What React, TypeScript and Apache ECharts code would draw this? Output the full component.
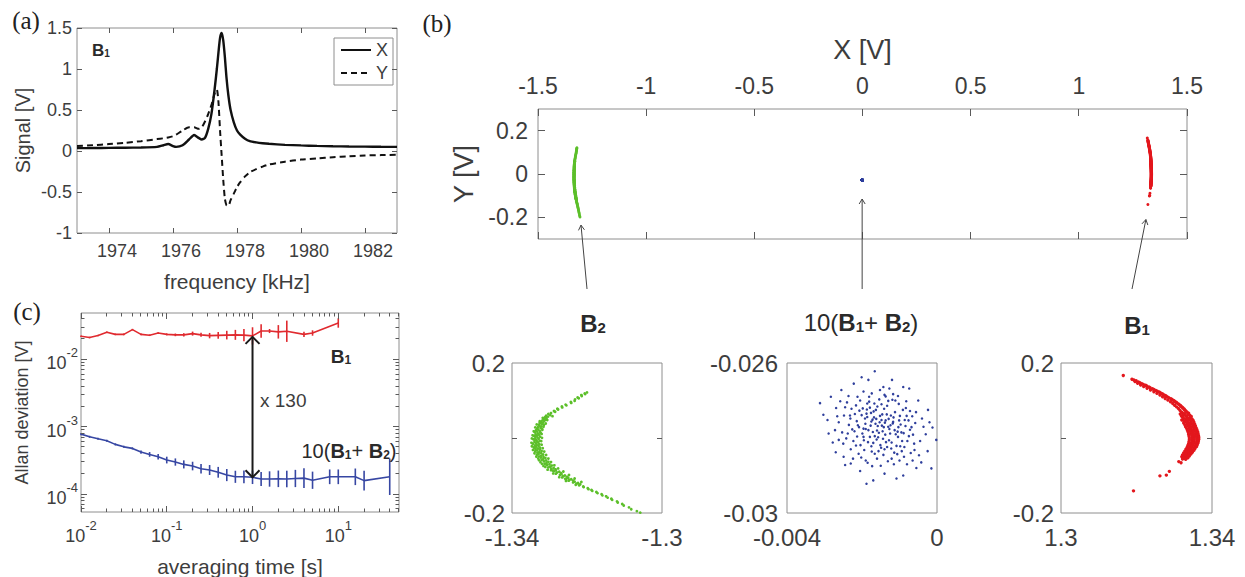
import { useEffect, useRef } from "react";
import * as echarts from "echarts";

// ---------------- (a) frequency sweep of B1 ----------------
const FREQ_KHZ = [1973, 1973.5, 1974, 1974.5, 1975, 1975.5, 1975.7, 1975.85, 1976.0, 1976.1, 1976.3, 1976.5, 1976.66, 1976.8, 1976.9, 1977.0, 1977.1, 1977.2, 1977.3, 1977.37, 1977.42, 1977.47, 1977.52, 1977.57, 1977.62, 1977.67, 1977.73, 1977.8, 1977.9, 1978.0, 1978.1, 1978.25, 1978.4, 1978.6, 1978.8, 1979.0, 1979.5, 1980, 1980.5, 1981, 1981.5, 1982, 1982.5, 1983];
const SIGNAL_X = [0.035, 0.036, 0.038, 0.04, 0.042, 0.05, 0.07, 0.085, 0.06, 0.05, 0.07, 0.14, 0.195, 0.16, 0.14, 0.16, 0.27, 0.45, 0.75, 1.0, 1.2, 1.38, 1.44, 1.35, 1.15, 0.9, 0.68, 0.5, 0.35, 0.25, 0.2, 0.15, 0.12, 0.105, 0.095, 0.088, 0.075, 0.068, 0.062, 0.058, 0.055, 0.053, 0.051, 0.05];
const SIGNAL_Y = [0.06, 0.07, 0.085, 0.1, 0.12, 0.145, 0.155, 0.165, 0.18, 0.2, 0.25, 0.29, 0.29, 0.27, 0.29, 0.36, 0.45, 0.56, 0.7, 0.75, 0.6, 0.25, -0.05, -0.35, -0.58, -0.66, -0.67, -0.6, -0.52, -0.44, -0.38, -0.31, -0.26, -0.22, -0.19, -0.165, -0.13, -0.105, -0.09, -0.075, -0.065, -0.055, -0.05, -0.045];
const A_XTICKS = [1974, 1976, 1978, 1980, 1982];
const A_YTICKS = [-1, -0.5, 0, 0.5, 1, 1.5];

// ---------------- (c) Allan deviation ----------------
const TAU_B1 = [0.01, 0.0126, 0.0158, 0.02, 0.0251, 0.0316, 0.0398, 0.0501, 0.0631, 0.0794, 0.1, 0.126, 0.158, 0.2, 0.251, 0.316, 0.398, 0.501, 0.631, 0.794, 1, 1.26, 1.58, 2, 2.51, 3.98, 5.01, 10];
const ADEV_B1 = [0.0219, 0.021, 0.0225, 0.0251, 0.0234, 0.0234, 0.0275, 0.0234, 0.0227, 0.0245, 0.0234, 0.023, 0.023, 0.024, 0.023, 0.0224, 0.0226, 0.0228, 0.023, 0.0228, 0.0222, 0.0262, 0.0262, 0.0255, 0.026, 0.0234, 0.0245, 0.0345];
const ERR_B1_DEC = [0.012, 0.012, 0.012, 0.012, 0.012, 0.012, 0.012, 0.012, 0.012, 0.012, 0.015, 0.02, 0.025, 0.03, 0.03, 0.04, 0.05, 0.064, 0.074, 0.09, 0.128, 0.1, 0.03, 0.1, 0.158, 0.04, 0.04, 0.07];
const TAU_SUM = [0.01, 0.0126, 0.0158, 0.02, 0.0251, 0.0316, 0.0398, 0.0501, 0.0631, 0.0794, 0.1, 0.126, 0.158, 0.2, 0.251, 0.316, 0.398, 0.501, 0.631, 0.794, 1, 1.26, 1.58, 2, 2.51, 3.16, 3.98, 5.01, 7.94, 10, 15.8, 20, 39.8];
const ADEV_SUM = [7.74e-4, 7.06e-4, 6.59e-4, 6.17e-4, 5.45e-4, 5.01e-4, 4.75e-4, 4.19e-4, 3.87e-4, 3.57e-4, 3.19e-4, 2.98e-4, 2.75e-4, 2.6e-4, 2.37e-4, 2.27e-4, 2.1e-4, 1.91e-4, 1.8e-4, 1.8e-4, 1.77e-4, 1.67e-4, 1.67e-4, 1.68e-4, 1.67e-4, 1.7e-4, 1.72e-4, 1.6e-4, 1.8e-4, 1.8e-4, 1.8e-4, 1.58e-4, 1.8e-4];
const ERR_SUM_DEC = [0.015, 0.015, 0.015, 0.015, 0.015, 0.015, 0.015, 0.025, 0.035, 0.04, 0.05, 0.054, 0.06, 0.064, 0.07, 0.074, 0.08, 0.09, 0.09, 0.094, 0.1, 0.104, 0.114, 0.123, 0.123, 0.128, 0.148, 0.128, 0.109, 0.109, 0.123, 0.148, 0.27];
const C_XMAJOR = [0.01, 0.1, 1, 10];
const C_YMAJOR = [1e-4, 1e-3, 1e-2];
const MINOR_MULT = [2, 3, 4, 5, 6, 7, 8, 9];

// ---------------- (b) IQ scatter ----------------
const B2_POINTS = [
  [-1.3200, 0.1215], [-1.3206, 0.1190], [-1.3205, 0.1170], [-1.3215, 0.1145], [-1.3214, 0.1120], [-1.3225, 0.1080], [-1.3222, 0.1060], [-1.3232, 0.1030], [-1.3233, 0.0990], [-1.3243, 0.0960],
  [-1.3242, 0.0935], [-1.3257, 0.0890], [-1.3255, 0.0870], [-1.3267, 0.0840], [-1.3266, 0.0815], [-1.3279, 0.0780], [-1.3277, 0.0760], [-1.3288, 0.0720], [-1.3285, 0.0700], [-1.3296, 0.0665],
  [-1.3303, 0.0640], [-1.3298, 0.0610], [-1.3309, 0.0595], [-1.3304, 0.0570], [-1.3312, 0.0555],
  [-1.3308, 0.0530], [-1.3316, 0.0510], [-1.3311, 0.0490], [-1.3319, 0.0470], [-1.3314, 0.0455],
  [-1.3322, 0.0430], [-1.3317, 0.0410], [-1.3325, 0.0395], [-1.3320, 0.0370], [-1.3328, 0.0355], [-1.3315, 0.0345],
  [-1.3327, 0.0330], [-1.3322, 0.0310], [-1.3331, 0.0290], [-1.3324, 0.0270], [-1.3333, 0.0255], [-1.3320, 0.0240],
  [-1.3330, 0.0225], [-1.3336, 0.0205], [-1.3326, 0.0190], [-1.3333, 0.0170], [-1.3339, 0.0155], [-1.3324, 0.0140],
  [-1.3331, 0.0120], [-1.3337, 0.0100], [-1.3328, 0.0085], [-1.3334, 0.0065], [-1.3341, 0.0050], [-1.3325, 0.0035],
  [-1.3332, 0.0015], [-1.3338, -0.0005], [-1.3329, -0.0020], [-1.3343, -0.0035], [-1.3335, -0.0055], [-1.3326, -0.0070],
  [-1.3333, -0.0090], [-1.3340, -0.0105], [-1.3330, -0.0120], [-1.3336, -0.0140], [-1.3344, -0.0155], [-1.3327, -0.0165],
  [-1.3334, -0.0185], [-1.3339, -0.0200], [-1.3329, -0.0215], [-1.3336, -0.0235], [-1.3342, -0.0250], [-1.3325, -0.0260],
  [-1.3331, -0.0280], [-1.3337, -0.0295], [-1.3326, -0.0310], [-1.3333, -0.0330], [-1.3321, -0.0345], [-1.3338, -0.0355],
  [-1.3327, -0.0375], [-1.3332, -0.0390], [-1.3322, -0.0405], [-1.3329, -0.0425], [-1.3317, -0.0440], [-1.3334, -0.0450],
  [-1.3322, -0.0470], [-1.3328, -0.0490], [-1.3316, -0.0505], [-1.3323, -0.0520], [-1.3311, -0.0535], [-1.3330, -0.0545],
  [-1.3317, -0.0565], [-1.3321, -0.0585], [-1.3309, -0.0600], [-1.3315, -0.0620], [-1.3303, -0.0635], [-1.3324, -0.0645],
  [-1.3308, -0.0665], [-1.3313, -0.0685], [-1.3300, -0.0700], [-1.3306, -0.0720], [-1.3294, -0.0735], [-1.3316, -0.0745],
  [-1.3298, -0.0765], [-1.3303, -0.0785], [-1.3289, -0.0800], [-1.3295, -0.0820], [-1.3284, -0.0835], [-1.3305, -0.0845],
  [-1.3283, -0.0865], [-1.3288, -0.0885], [-1.3274, -0.0900], [-1.3280, -0.0920], [-1.3269, -0.0935], [-1.3290, -0.0945],
  [-1.3268, -0.0965], [-1.3272, -0.0985], [-1.3259, -0.1000], [-1.3264, -0.1020], [-1.3253, -0.1035], [-1.3274, -0.1045],
  [-1.3250, -0.1065], [-1.3255, -0.1085], [-1.3242, -0.1100], [-1.3247, -0.1120], [-1.3237, -0.1135], [-1.3256, -0.1145],
  [-1.3233, -0.1165], [-1.3237, -0.1185], [-1.3224, -0.1200], [-1.3228, -0.1220], [-1.3218, -0.1235],
  [-1.3221, -0.1260], [-1.3210, -0.1290], [-1.3209, -0.1310], [-1.3198, -0.1340], [-1.3196, -0.1365], [-1.3188, -0.1385], [-1.3186, -0.1410], [-1.3175, -0.1440],
  [-1.3172, -0.1470], [-1.3161, -0.1500], [-1.3159, -0.1530], [-1.3149, -0.1555], [-1.3145, -0.1590], [-1.3135, -0.1620], [-1.3133, -0.1650], [-1.3120, -0.1690],
  [-1.3118, -0.1720], [-1.3106, -0.1760], [-1.3102, -0.1800], [-1.3088, -0.1850], [-1.3082, -0.1900], [-1.3067, -0.1950], [-1.3058, -0.1990],
  [-1.3292, 0.0582], [-1.3318, 0.0537], [-1.3306, 0.0478], [-1.3326, 0.0447], [-1.3310, 0.0386], [-1.3334, 0.0362], [-1.3316, 0.0298], [-1.3338, 0.0283], [-1.3319, 0.0217], [-1.3342, 0.0178],
  [-1.3321, 0.0108], [-1.3345, 0.0072], [-1.3320, 0.0004], [-1.3347, -0.0012], [-1.3322, -0.0083], [-1.3348, -0.0128], [-1.3321, -0.0178], [-1.3347, -0.0221], [-1.3318, -0.0272], [-1.3344, -0.0318],
  [-1.3314, -0.0362], [-1.3340, -0.0408], [-1.3309, -0.0452], [-1.3335, -0.0497], [-1.3303, -0.0548], [-1.3328, -0.0592], [-1.3296, -0.0642], [-1.3320, -0.0688], [-1.3287, -0.0728], [-1.3311, -0.0772],
  [-1.3277, -0.0812], [-1.3296, -0.0858], [-1.3263, -0.0893], [-1.3283, -0.0952], [-1.3248, -0.0987], [-1.3266, -0.1052], [-1.3233, -0.1079], [-1.3249, -0.1138], [-1.3215, -0.1172], [-1.3230, -0.1248],
  [-1.3325, 0.0152], [-1.3339, -0.0062], [-1.3331, -0.0402], [-1.3326, 0.0411], [-1.3308, -0.0712], [-1.3291, -0.0868], [-1.3258, -0.1088], [-1.3312, 0.0512], [-1.3338, 0.0058], [-1.3340, -0.0268],
];

const B1_POINTS = [
  [1.3165, 0.1665], [1.3188, 0.1565], [1.3193, 0.1545], [1.3199, 0.1530], [1.3196, 0.1505], [1.3205, 0.1495], [1.3209, 0.1475], [1.3203, 0.1460], [1.3214, 0.1450], [1.3218, 0.1430],
  [1.3211, 0.1415], [1.3224, 0.1405], [1.3227, 0.1385], [1.3219, 0.1370], [1.3233, 0.1360], [1.3236, 0.1340], [1.3228, 0.1325], [1.3242, 0.1315], [1.3246, 0.1295], [1.3237, 0.1280],
  [1.3251, 0.1270], [1.3255, 0.1250], [1.3246, 0.1235], [1.3260, 0.1225], [1.3263, 0.1205], [1.3254, 0.1190], [1.3268, 0.1180], [1.3271, 0.1160], [1.3262, 0.1145], [1.3276, 0.1135],
  [1.3279, 0.1115], [1.3269, 0.1100], [1.3283, 0.1090], [1.3286, 0.1070], [1.3276, 0.1055], [1.3291, 0.1045], [1.3294, 0.1025], [1.3283, 0.1010], [1.3298, 0.1000], [1.3301, 0.0980],
  [1.3290, 0.0965], [1.3305, 0.0955], [1.3307, 0.0935], [1.3296, 0.0920], [1.3311, 0.0910], [1.3313, 0.0890], [1.3301, 0.0875], [1.3316, 0.0865], [1.3318, 0.0845], [1.3306, 0.0830],
  [1.3321, 0.0820], [1.3323, 0.0800], [1.3311, 0.0785], [1.3326, 0.0775], [1.3327, 0.0755], [1.3315, 0.0740], [1.3330, 0.0730], [1.3331, 0.0710], [1.3319, 0.0695],
  [1.3334, 0.0685], [1.3322, 0.0670], [1.3338, 0.0660], [1.3327, 0.0650], [1.3316, 0.0640],
  [1.3336, 0.0625], [1.3324, 0.0615], [1.3341, 0.0605], [1.3330, 0.0595], [1.3319, 0.0585], [1.3345, 0.0575],
  [1.3333, 0.0565], [1.3322, 0.0555], [1.3342, 0.0545], [1.3336, 0.0530], [1.3325, 0.0520], [1.3347, 0.0510],
  [1.3331, 0.0500], [1.3340, 0.0490], [1.3320, 0.0480], [1.3350, 0.0470], [1.3335, 0.0460], [1.3326, 0.0450],
  [1.3344, 0.0440], [1.3330, 0.0430], [1.3352, 0.0420], [1.3338, 0.0410], [1.3325, 0.0400], [1.3346, 0.0390],
  [1.3334, 0.0380], [1.3354, 0.0370], [1.3341, 0.0360], [1.3328, 0.0350], [1.3349, 0.0340], [1.3336, 0.0330],
  [1.3356, 0.0320], [1.3343, 0.0310], [1.3330, 0.0300], [1.3351, 0.0290], [1.3339, 0.0280], [1.3358, 0.0270],
  [1.3345, 0.0260], [1.3333, 0.0250], [1.3353, 0.0240], [1.3341, 0.0230], [1.3360, 0.0220], [1.3348, 0.0210],
  [1.3335, 0.0200], [1.3355, 0.0190], [1.3343, 0.0180], [1.3362, 0.0170], [1.3350, 0.0160], [1.3337, 0.0150],
  [1.3357, 0.0140], [1.3345, 0.0130], [1.3363, 0.0120], [1.3351, 0.0110], [1.3338, 0.0100], [1.3358, 0.0090],
  [1.3346, 0.0080], [1.3364, 0.0070], [1.3352, 0.0060], [1.3339, 0.0050], [1.3359, 0.0040], [1.3347, 0.0030],
  [1.3365, 0.0020], [1.3353, 0.0010], [1.3340, 0.0000], [1.3360, -0.0010], [1.3347, -0.0020], [1.3365, -0.0030],
  [1.3353, -0.0040], [1.3340, -0.0050], [1.3360, -0.0060], [1.3347, -0.0070], [1.3364, -0.0080], [1.3352, -0.0090],
  [1.3339, -0.0100], [1.3359, -0.0110], [1.3346, -0.0120], [1.3363, -0.0130], [1.3351, -0.0140], [1.3338, -0.0150],
  [1.3357, -0.0160], [1.3344, -0.0170], [1.3361, -0.0180], [1.3349, -0.0190], [1.3336, -0.0200], [1.3355, -0.0210],
  [1.3342, -0.0220], [1.3359, -0.0230], [1.3346, -0.0240], [1.3334, -0.0250], [1.3352, -0.0260], [1.3339, -0.0270],
  [1.3355, -0.0280], [1.3343, -0.0290], [1.3331, -0.0300], [1.3349, -0.0310], [1.3336, -0.0320], [1.3352, -0.0330],
  [1.3340, -0.0340], [1.3328, -0.0350], [1.3345, -0.0360], [1.3333, -0.0370], [1.3348, -0.0380], [1.3336, -0.0390],
  [1.3325, -0.0400], [1.3342, -0.0410], [1.3330, -0.0420], [1.3344, -0.0430], [1.3332, -0.0440], [1.3322, -0.0450],
  [1.3338, -0.0460], [1.3327, -0.0470], [1.3340, -0.0480], [1.3329, -0.0490], [1.3320, -0.0500], [1.3334, -0.0510],
  [1.3324, -0.0520], [1.3336, -0.0530], [1.3326, -0.0540], [1.3331, -0.0550], [1.3322, -0.0560], [1.3330, -0.0570],
  [1.3312, -0.0630], [1.3318, -0.0660], [1.3287, -0.0890], [1.3279, -0.0990], [1.3262, -0.1010], [1.3192, -0.1410],
];

const SUM_POINTS = [
  [-0.00158, -0.02768], [-0.00172, -0.02751], [-0.00145, -0.02782], [-0.00183, -0.02779], [-0.00139, -0.02759],
  [-0.00166, -0.02795], [-0.00152, -0.02741], [-0.00191, -0.02762], [-0.00127, -0.02776], [-0.00176, -0.02733],
  [-0.00144, -0.02802], [-0.00162, -0.02749], [-0.00199, -0.02788], [-0.00118, -0.02761], [-0.00170, -0.02813],
  [-0.00134, -0.02737], [-0.00186, -0.02744], [-0.00151, -0.02819], [-0.00208, -0.02771], [-0.00110, -0.02790],
  [-0.00163, -0.02725], [-0.00128, -0.02806], [-0.00195, -0.02806], [-0.00141, -0.02722], [-0.00179, -0.02797],
  [-0.00116, -0.02745], [-0.00214, -0.02755], [-0.00156, -0.02835], [-0.00103, -0.02771], [-0.00187, -0.02724],
  [-0.00133, -0.02824], [-0.00201, -0.02739], [-0.00148, -0.02710], [-0.00122, -0.02828], [-0.00174, -0.02836],
  [-0.00095, -0.02785], [-0.00220, -0.02782], [-0.00167, -0.02708], [-0.00137, -0.02753], [-0.00155, -0.02786],
  [-0.00235, -0.02765], [-0.00228, -0.02722], [-0.00242, -0.02801], [-0.00086, -0.02752], [-0.00079, -0.02808],
  [-0.00091, -0.02725], [-0.00205, -0.02700], [-0.00119, -0.02698], [-0.00181, -0.02690], [-0.00140, -0.02685],
  [-0.00209, -0.02842], [-0.00106, -0.02843], [-0.00160, -0.02855], [-0.00131, -0.02862], [-0.00190, -0.02860],
  [-0.00248, -0.02740], [-0.00253, -0.02785], [-0.00072, -0.02778], [-0.00066, -0.02742], [-0.00230, -0.02830],
  [-0.00098, -0.02822], [-0.00216, -0.02713], [-0.00082, -0.02702], [-0.00152, -0.02672], [-0.00196, -0.02676],
  [-0.00115, -0.02870], [-0.00173, -0.02875], [-0.00061, -0.02815], [-0.00262, -0.02758], [-0.00240, -0.02705],
  [-0.00058, -0.02760], [-0.00224, -0.02855], [-0.00088, -0.02850], [-0.00269, -0.02720], [-0.00127, -0.02668],
  [-0.00283, -0.02690], [-0.00292, -0.02752], [-0.00278, -0.02812], [-0.00270, -0.02838], [-0.00255, -0.02672],
  [-0.00222, -0.02655], [-0.00183, -0.02645], [-0.00120, -0.02645], [-0.00104, -0.02688], [-0.00074, -0.02668],
  [-0.00050, -0.02700], [-0.00040, -0.02748], [-0.00030, -0.02790], [-0.00012, -0.02772], [-0.00025, -0.02835],
  [-0.00055, -0.02880], [-0.00140, -0.02895], [-0.00205, -0.02888], [-0.00245, -0.02872], [-0.00262, -0.02805],
  [-0.00236, -0.02688], [-0.00060, -0.02832], [-0.00072, -0.02728],
  [-0.00166, -0.02622], [-0.00201, -0.02638], [-0.00143, -0.02664], [-0.00090, -0.02664], [-0.00312, -0.02707],
  [-0.00303, -0.02738], [-0.00289, -0.02788], [-0.00002, -0.02805], [-0.00015, -0.02881], [-0.00024, -0.02725],
  [-0.00042, -0.02865], [-0.00188, -0.02922], [-0.00170, -0.02913], [-0.00108, -0.02908], [-0.00090, -0.02900],
  [-0.00231, -0.02748], [-0.00213, -0.02796], [-0.00198, -0.02721], [-0.00184, -0.02811], [-0.00177, -0.02767],
  [-0.00169, -0.02729], [-0.00161, -0.02804], [-0.00153, -0.02758], [-0.00146, -0.02737], [-0.00138, -0.02791],
  [-0.00129, -0.02749], [-0.00121, -0.02812], [-0.00112, -0.02731], [-0.00104, -0.02797], [-0.00097, -0.02764],
  [-0.00089, -0.02787], [-0.00081, -0.02741], [-0.00075, -0.02795], [-0.00068, -0.02771], [-0.00226, -0.02777],
  [-0.00219, -0.02736], [-0.00204, -0.02819], [-0.00192, -0.02748], [-0.00181, -0.02703], [-0.00171, -0.02784],
  [-0.00164, -0.02762], [-0.00149, -0.02826], [-0.00142, -0.02771], [-0.00133, -0.02714], [-0.00125, -0.02788],
  [-0.00117, -0.02757], [-0.00108, -0.02821], [-0.00099, -0.02741], [-0.00093, -0.02808], [-0.00084, -0.02768],
  [-0.00211, -0.02766], [-0.00196, -0.02775], [-0.00188, -0.02735], [-0.00175, -0.02822], [-0.00168, -0.02745],
  [-0.00157, -0.02798], [-0.00148, -0.02752], [-0.00136, -0.02811], [-0.00124, -0.02766], [-0.00113, -0.02779],
  [-0.00101, -0.02753], [-0.00087, -0.02824], [-0.00076, -0.02753], [-0.00245, -0.02718], [-0.00238, -0.02788],
  [-0.00250, -0.02815], [-0.00223, -0.02808], [-0.00207, -0.02727], [-0.00194, -0.02832], [-0.00179, -0.02719],
  [-0.00159, -0.02716], [-0.00143, -0.02845], [-0.00130, -0.02701], [-0.00114, -0.02839], [-0.00102, -0.02709],
  [-0.00094, -0.02835], [-0.00083, -0.02720], [-0.00070, -0.02840], [-0.00064, -0.02791], [-0.00056, -0.02731],
  [-0.00202, -0.02852], [-0.00185, -0.02866], [-0.00166, -0.02842], [-0.00150, -0.02874], [-0.00121, -0.02855],
  [-0.00111, -0.02700], [-0.00137, -0.02689], [-0.00174, -0.02681], [-0.00212, -0.02690], [-0.00258, -0.02702],
  [-0.00266, -0.02742], [-0.00272, -0.02779], [-0.00249, -0.02850], [-0.00230, -0.02868], [-0.00080, -0.02870],
  [-0.00045, -0.02808], [-0.00036, -0.02770], [-0.00048, -0.02846], [-0.00065, -0.02860], [-0.00020, -0.02758],
  [-0.00190, -0.02776], [-0.00160, -0.02780], [-0.00130, -0.02770], [-0.00147, -0.02767], [-0.00175, -0.02756],
  [-0.00123, -0.02740], [-0.00105, -0.02783], [-0.00196, -0.02797], [-0.00216, -0.02820], [-0.00140, -0.02830],
  [-0.00154, -0.02697], [-0.00186, -0.02708], [-0.00117, -0.02683], [-0.00232, -0.02740], [-0.00100, -0.02860],
];

const B_XTICKS = [-1.5, -1, -0.5, 0, 0.5, 1, 1.5];
const B_YTICKS = [-0.2, 0, 0.2];

// ---------------- styling ----------------
const FONT = "'Liberation Sans', Arial, Helvetica, sans-serif";
const SERIF = "'Liberation Serif', 'Times New Roman', serif";
const AXC = "#8e8e8e";
const TICKC = "#5a5a5a";
const TXT = "#3d3d3d";
const RED = "#e3171d";
const GREEN = "#5cbf2a";
const BLUE = "#2f3f9c";
const RED_C = "#e02a2f";
const BLUE_C = "#3747a3";

function axis(o: any) {
  return {
    type: "value",
    gridIndex: o.grid,
    position: o.position,
    min: o.min,
    max: o.max,
    axisLine: { show: false, onZero: false },
    splitLine: { show: false },
    axisTick: { show: false },
    axisLabel: o.labels
      ? {
          show: true,
          customValues: o.labels,
          formatter: o.formatter || ((v: number) => String(v)),
          fontSize: o.fontSize,
          fontFamily: FONT,
          color: TXT,
          margin: o.margin,
          padding: o.labelPad,
          rich: o.rich,
        }
      : { show: false },
    name: o.name || "",
    nameLocation: "middle",
    nameGap: o.nameGap,
    nameTextStyle: { fontSize: o.nameSize, fontFamily: FONT, color: TXT },
  };
}

const lg = (v: number) => Math.log10(v);

export default function App() {
  const ref = useRef<HTMLDivElement>(null);

  useEffect(() => {
    const chart = echarts.init(ref.current!, null, { renderer: "svg" });

    const C_XMIN = -2, C_XMAX = 1.708, C_YMIN = -4.267, C_YMAX = -1.314;
    const minorX: number[] = [];
    [0.01, 0.1, 1, 10].forEach((d) => MINOR_MULT.forEach((m) => { const v = lg(d * m); if (v <= C_XMAX) minorX.push(v); }));
    const minorY: number[] = [];
    [1e-5, 1e-4, 1e-3, 1e-2].forEach((d) => MINOR_MULT.forEach((m) => { const v = lg(d * m); if (v >= C_YMIN && v <= C_YMAX) minorY.push(v); }));

    const powRich = {
      b: { fontSize: 18, fontFamily: FONT, color: TXT, lineHeight: 26, verticalAlign: "bottom" },
      s: { fontSize: 13, fontFamily: FONT, color: TXT, lineHeight: 12, verticalAlign: "top" },
    };
    const powFmt = (v: number) => `{b|10}{s|${Math.round(v)}}`;

    const grids = [
      { left: 77, top: 28, width: 320, height: 205 },
      { left: 81, top: 313, width: 318, height: 199 },
      { left: 538, top: 109, width: 649, height: 130 },
      { left: 512, top: 363, width: 150, height: 150 },
      { left: 787, top: 363, width: 150, height: 150 },
      { left: 1061, top: 363, width: 151, height: 150 },
    ].map((g) => ({ ...g, show: true, borderColor: AXC, borderWidth: 1, backgroundColor: "transparent", containLabel: false, outerBoundsMode: "none" }));

    const xAxis = [
      axis({ grid: 0, position: "bottom", min: 1973, max: 1983, labels: A_XTICKS, fontSize: 18, margin: 9, labelPad: [0, 0, 0, 16], name: "frequency [kHz]", nameGap: 38, nameSize: 21 }),
      axis({ grid: 1, position: "bottom", min: C_XMIN, max: C_XMAX, labels: C_XMAJOR.map(lg), formatter: powFmt, rich: powRich, fontSize: 18, margin: 7, name: "averaging time [s]", nameGap: 44, nameSize: 21 }),
      axis({ grid: 2, position: "top", min: -1.5, max: 1.5, labels: B_XTICKS, fontSize: 23, margin: 12, name: "X [V]", nameGap: 46, nameSize: 27 }),
      axis({ grid: 3, position: "bottom", min: -1.34, max: -1.3, labels: [-1.34, -1.3], fontSize: 24, margin: 12 }),
      axis({ grid: 4, position: "bottom", min: -0.004, max: 0, labels: [-0.004, 0], fontSize: 24, margin: 12 }),
      axis({ grid: 5, position: "bottom", min: 1.3, max: 1.34, labels: [1.3, 1.34], fontSize: 24, margin: 12 }),
    ];

    const yAxis = [
      axis({ grid: 0, position: "left", min: -1, max: 1.5, labels: A_YTICKS, fontSize: 18, margin: 5, name: "Signal [V]", nameGap: 44, nameSize: 20 }),
      axis({ grid: 1, position: "left", min: C_YMIN, max: C_YMAX, labels: C_YMAJOR.map(lg), formatter: powFmt, rich: powRich, fontSize: 18, margin: 3, name: "Allan deviation [V]", nameGap: 50, nameSize: 18 }),
      axis({ grid: 2, position: "left", min: -0.3, max: 0.3, labels: B_YTICKS, fontSize: 23, margin: 10, name: "Y [V]", nameGap: 60, nameSize: 27 }),
      axis({ grid: 3, position: "left", min: -0.2, max: 0.2, labels: [-0.2, 0.2], fontSize: 24, margin: 7 }),
      axis({ grid: 4, position: "left", min: -0.03, max: -0.026, labels: [-0.03, -0.026], fontSize: 24, margin: 9 }),
      axis({ grid: 5, position: "left", min: -0.2, max: 0.2, labels: [-0.2, 0.2], fontSize: 24, margin: 7 }),
    ];

    const errSeries = (tau: number[], val: number[], err: number[], color: string) => ({
      type: "custom",
      xAxisIndex: 1,
      yAxisIndex: 1,
      silent: true,
      z: 4,
      data: tau.map((t, i) => [lg(t), lg(val[i]) - err[i], lg(val[i]) + err[i]]),
      encode: { x: 0, y: [1, 2] },
      renderItem: (_p: any, api: any) => {
        const a = api.coord([api.value(0), api.value(1)]);
        const b = api.coord([api.value(0), api.value(2)]);
        return { type: "line", shape: { x1: a[0], y1: a[1], x2: b[0], y2: b[1] }, style: { stroke: color, lineWidth: 1.6 } };
      },
    });

    const scatter = (pts: number[][], ai: number, color: string, size: number) => ({
      type: "scatter",
      xAxisIndex: ai,
      yAxisIndex: ai,
      data: pts,
      symbol: "circle",
      symbolSize: size,
      itemStyle: { color, opacity: 1 },
      silent: true,
      z: 3,
    });

    chart.setOption({
      animation: false,
      backgroundColor: "#ffffff",
      textStyle: { fontFamily: FONT },
      grid: grids,
      xAxis,
      yAxis,
      legend: {
        data: ["X", "Y"],
        orient: "vertical",
        left: 334,
        top: 38,
        itemWidth: 30,
        itemHeight: 12,
        itemGap: 5,
        padding: [3, 5, 3, 6],
        borderColor: AXC,
        borderWidth: 1,
        backgroundColor: "#fff",
        selectedMode: false,
        itemStyle: { opacity: 0, borderWidth: 0 },
        textStyle: { fontSize: 18, color: TXT, fontFamily: FONT },
      },
      series: [
        { name: "X", type: "line", xAxisIndex: 0, yAxisIndex: 0, data: FREQ_KHZ.map((f, i) => [f, SIGNAL_X[i]]), symbol: "none", smooth: 0.2, lineStyle: { color: "#111", width: 2.4, type: "solid" }, itemStyle: { color: "#111" }, silent: true },
        { name: "Y", type: "line", xAxisIndex: 0, yAxisIndex: 0, data: FREQ_KHZ.map((f, i) => [f, SIGNAL_Y[i]]), symbol: "none", smooth: 0.2, lineStyle: { color: "#111", width: 2, type: [6, 4] }, itemStyle: { color: "#111" }, silent: true },
        { type: "line", xAxisIndex: 1, yAxisIndex: 1, data: TAU_B1.map((t, i) => [lg(t), lg(ADEV_B1[i])]), symbol: "none", lineStyle: { color: RED_C, width: 1.6 }, silent: true, z: 3 },
        errSeries(TAU_B1, ADEV_B1, ERR_B1_DEC, RED_C),
        { type: "line", xAxisIndex: 1, yAxisIndex: 1, data: TAU_SUM.map((t, i) => [lg(t), lg(ADEV_SUM[i])]), symbol: "none", lineStyle: { color: BLUE_C, width: 1.6 }, silent: true, z: 3 },
        errSeries(TAU_SUM, ADEV_SUM, ERR_SUM_DEC, BLUE_C),
        scatter(B2_POINTS, 2, GREEN, 2.8),
        scatter(SUM_POINTS, 2, BLUE, 2.6),
        scatter(B1_POINTS, 2, RED, 3),
        scatter(B2_POINTS, 3, GREEN, 2.8),
        scatter(SUM_POINTS, 4, BLUE, 2.5),
        scatter(B1_POINTS, 5, RED, 3.4),
      ],
    });

    // ---------- annotations ----------
    const px = (g: number, p: number[]) => chart.convertToPixel({ gridIndex: g } as any, p) as number[];
    const crisp = (v: number) => Math.round(v - 0.5) + 0.5;

    const seg = (a: number[], b: number[], color: string, w: number) => ({
      type: "line",
      silent: true,
      z: 100,
      shape: { x1: a[0], y1: a[1], x2: b[0], y2: b[1] },
      style: { stroke: color, lineWidth: w },
    });
    const arrowHead = (tail: number[], tip: number[], len: number, spread: number, color: string, w: number) => {
      const dx = tip[0] - tail[0];
      const dy = tip[1] - tail[1];
      const L = Math.hypot(dx, dy) || 1;
      const ux = dx / L, uy = dy / L;
      const bx = tip[0] - ux * len, by = tip[1] - uy * len;
      const nx = -uy, ny = ux;
      return {
        type: "polyline",
        silent: true,
        z: 100,
        shape: { points: [[bx + nx * spread, by + ny * spread], [tip[0], tip[1]], [bx - nx * spread, by - ny * spread]] },
        style: { stroke: color, lineWidth: w, fill: null },
      };
    };

    const els: any[] = [];

    // inside tick marks on all four sides (MATLAB box style), placed via the axes' scales
    const ticks = (g: number, xs: number[], ys: number[], len: number, xr: number[], yr: number[]) => {
      xs.forEach((v) => {
        const b = px(g, [v, yr[0]]);
        const t = px(g, [v, yr[1]]);
        const x = crisp(b[0]);
        els.push(seg([x, b[1]], [x, b[1] - len], TICKC, 1));
        els.push(seg([x, t[1]], [x, t[1] + len], TICKC, 1));
      });
      ys.forEach((v) => {
        const l = px(g, [xr[0], v]);
        const r = px(g, [xr[1], v]);
        const y = crisp(l[1]);
        els.push(seg([l[0], y], [l[0] + len, y], TICKC, 1));
        els.push(seg([r[0], y], [r[0] - len, y], TICKC, 1));
      });
    };
    ticks(0, A_XTICKS, A_YTICKS, 5, [1973, 1983], [-1, 1.5]);
    ticks(1, C_XMAJOR.map(lg), C_YMAJOR.map(lg), 6, [C_XMIN, C_XMAX], [C_YMIN, C_YMAX]);
    ticks(1, minorX, minorY, 3.5, [C_XMIN, C_XMAX], [C_YMIN, C_YMAX]);
    ticks(2, B_XTICKS, B_YTICKS, 7, [-1.5, 1.5], [-0.3, 0.3]);
    ticks(3, [], [0], 5, [-1.34, -1.3], [-0.2, 0.2]);
    ticks(5, [], [0], 5, [1.3, 1.34], [-0.2, 0.2]);

    // (b) arrows from the traces to the zoomed panels
    const gEnd = px(2, B2_POINTS[B2_POINTS.length - 51]);
    const gTip = [gEnd[0] + 1, gEnd[1] + 8];
    const gTail = [587, 289];
    els.push(seg(gTail, gTip, "#444", 1), arrowHead(gTail, gTip, 5, 3, "#444", 1));
    const sEnd = px(2, [-0.0016, -0.0277]);
    const sTip = [sEnd[0], sEnd[1] + 19];
    const sTail = [sEnd[0], 289];
    els.push(seg(sTail, sTip, "#444", 1), arrowHead(sTail, sTip, 5, 3, "#444", 1));
    const rEnd = px(2, B1_POINTS[B1_POINTS.length - 1]);
    const rTip = [rEnd[0] - 2, rEnd[1] + 15];
    const rTail = [1132, 289];
    els.push(seg(rTail, rTip, "#444", 1), arrowHead(rTail, rTip, 5, 3, "#444", 1));

    // (c) double arrow between B1 and 10(B1+B2) at tau = 1 s
    const iB1 = TAU_B1.indexOf(1);
    const iS = TAU_SUM.indexOf(1);
    const cTop = px(1, [0, lg(ADEV_B1[iB1])]);
    const cBot = px(1, [0, lg(ADEV_SUM[iS])]);
    const cT = [cTop[0], cTop[1] + 1];
    const cB = [cBot[0], cBot[1]];
    els.push(seg(cT, cB, "#1a1a1a", 2), arrowHead(cB, cT, 7, 7, "#1a1a1a", 2), arrowHead(cT, cB, 7, 7, "#1a1a1a", 2));

    // texts
    const text = (x: number, y: number, t: string, style: any) => ({
      type: "text",
      x,
      y,
      silent: true,
      z: 110,
      style: { text: t, fill: TXT, align: "center", verticalAlign: "middle", textAlign: "center", textVerticalAlign: "middle", ...style },
    });
    const subRich = (size: number, sub: number, color: string) => ({
      n: { fontSize: size, fontFamily: FONT, fill: color, lineHeight: size, verticalAlign: "top" },
      b: { fontSize: size, fontFamily: FONT, fontWeight: "bold", fill: color, lineHeight: size, verticalAlign: "top" },
      s: { fontSize: sub, fontFamily: FONT, fontWeight: "bold", fill: color, lineHeight: 2, verticalAlign: "bottom" },
    });
    els.push(text(26, 20, "(a)", { font: `25px ${SERIF}`, fill: "#222" }));
    els.push(text(437, 23, "(b)", { font: `25px ${SERIF}`, fill: "#222" }));
    els.push(text(27, 311, "(c)", { font: `25px ${SERIF}`, fill: "#222" }));
    els.push(text(101, 50, "{b|B}{s|1}", { rich: subRich(17, 10, "#2a2a2a") }));
    els.push(text(341, 356, "{b|B}{s|1}", { rich: subRich(19, 12, "#2a2a2a") }));
    els.push(text(349, 451, "{n|10(}{b|B}{s|1}{n|+ }{b|B}{s|2}{n|)}", { rich: subRich(20, 12, "#2a2a2a") }));
    els.push(text(260, 400, "x 130", { font: `19px ${FONT}`, fill: TXT, align: "left", textAlign: "left" }));
    els.push(text(593, 323, "{b|B}{s|2}", { rich: subRich(24, 15, "#2a2a2a") }));
    els.push(text(861, 322, "{n|10(}{b|B}{s|1}{n|+ }{b|B}{s|2}{n|)}", { rich: subRich(24, 15, "#2a2a2a") }));
    els.push(text(1137, 325, "{b|B}{s|1}", { rich: subRich(24, 15, "#2a2a2a") }));

    chart.setOption({ graphic: { elements: els } });

    return () => chart.dispose();
  }, []);

  return <div ref={ref} style={{ position: "fixed", left: 0, top: 0, width: 1245, height: 577, background: "#fff" }} />;
}
